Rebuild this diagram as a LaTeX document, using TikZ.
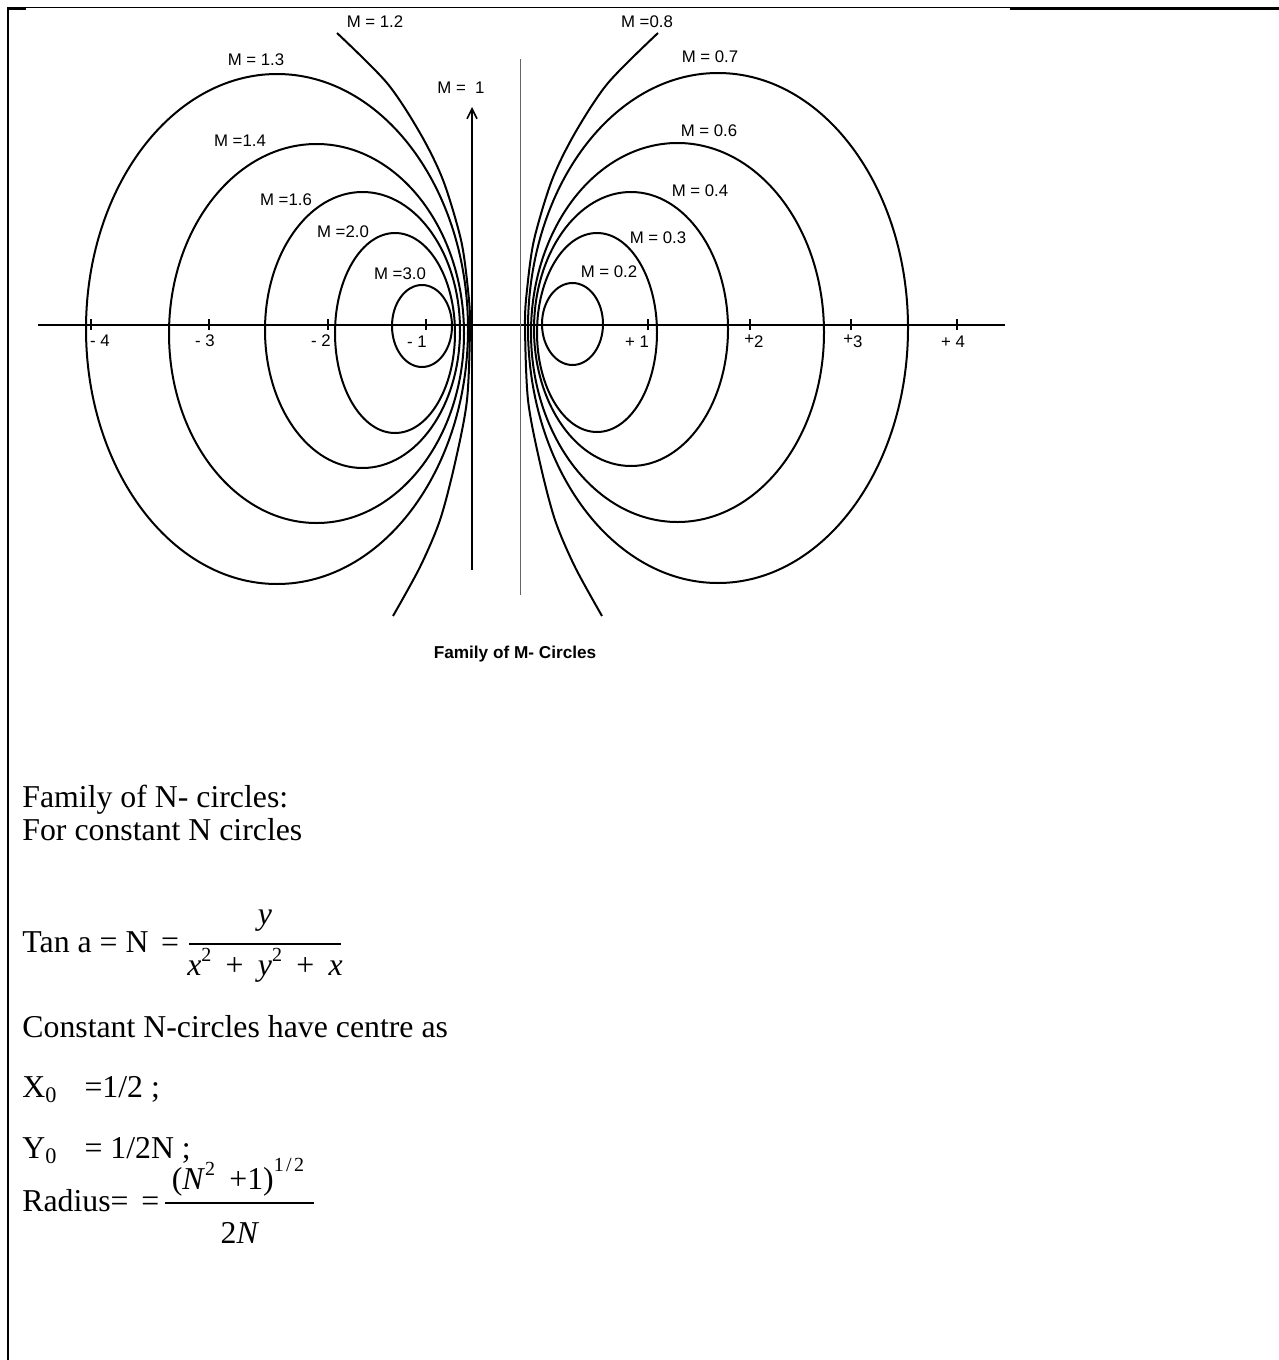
\documentclass[tikz,border=0pt]{standalone}
\usepackage{fontspec}
\setmainfont{Liberation Serif}
\newfontfamily\arialfont{Liberation Sans}
\usetikzlibrary{arrows.meta}
\newcommand{\supidx}[2][0.42em]{\raisebox{#1}{\fontsize{10}{10}\selectfont #2}}

\begin{document}
\begin{tikzpicture}[
  x=0.5pt,y=-0.5pt,
  frame/.style={line width=0.7pt,color=black},
  axisline/.style={line width=0.55pt,color=black},
  imagline/.style={line width=0.5pt,color=black!60},
  mcurve/.style={line width=1pt,color=black},
  unitline/.style={line width=1pt,-{Straight Barb[length=5pt,width=5pt,line width=0.8pt]}},
  mlabel/.style={font=\arialfont\fontsize{8.4}{9}\selectfont,inner sep=0pt},
  caption/.style={font=\arialfont\bfseries\fontsize{8.6}{10}\selectfont,inner sep=0pt},
  body/.style={font=\fontsize{15.9}{16.5}\selectfont,anchor=base west,inner sep=0pt},
  fracpart/.style={font=\fontsize{15.9}{16.5}\selectfont,anchor=base,inner sep=0pt},
  fracbar/.style={line width=0.7pt}
]
\useasboundingbox (0,0) rectangle (1279,1360);

% Page frame.
\draw[frame] (8,7.5)--(1012,7.5);
\draw[line width=1.2pt] (1010,8.4)--(1279,8.4);
\draw[line width=1.3pt] (7,8.2)--(26,8.2);
\draw[line width=0.9pt] (8,7)--(8,1360);

% Real axis, ticks and labels.
\draw[axisline] (38,325)--(1005,325);
\foreach \x in {91,209,328,426,648,750,851,957}
  \draw[axisline] (\x,319)--(\x,330);
\foreach \x/\y/\lbl [count=\i] in {100/341/{- 4},205/341/{- 3},321/341/{- 2},417/342/{- 1},
    637/342/{+ 1},754/341/{\raisebox{1.5pt}{+}2},853/341/{\raisebox{1.5pt}{+}3},953/342/{+ 4}}
  \node[mlabel] (tick\i) at (\x,\y) {\lbl};

% Imaginary axis and the M = 1 line.
\draw[imagline] (520,59)--(520,595);
\coordinate (unitbot) at (472,570);
\coordinate (unittop) at (472,107);
\draw[unitline] (unitbot)--(unittop);

% Closed M-circles: M > 1 on the left, M < 1 on the right.
\foreach \cx/\cy/\rx/\ry in {277/329/191/255,316.5/333.5/147.5/189.5,362.5/330/97.5/138,
    395/333/60/100,422/326/30/41,572.5/324/30.5/41,597/332.5/60/99.5,631/329/97/137,
    677.5/332.5/146.5/189.5,718/328/190/255}
  \draw[mcurve] (\cx,\cy) ellipse [x radius=\rx,y radius=\ry];

% Open curves M = 1.2 and M = 0.8.
\draw[mcurve] plot[smooth] coordinates {(337,33) (387,83) (420,133) (443,180) (461,240)
  (468,290) (470,325) (467,400) (455,463) (440,520) (420,567) (393,616)};
\draw[mcurve] plot[smooth] coordinates {(658,33) (608,83) (575,133) (552,180) (534,240)
  (527,290) (525,325) (528,400) (540,463) (555,520) (575,567) (602,616)};

% M labels.
\foreach \x/\y/\lbl [count=\i] in {375/22/{M = 1.2},647/22/{M =0.8},256/60/{M = 1.3},
    710/57/{M = 0.7},461/88/{M =\ \ 1},240/141/{M =1.4},709/131/{M = 0.6},286/200/{M =1.6},
    700/191/{M = 0.4},343/232/{M =2.0},658/238/{M = 0.3},400/274/{M =3.0},609/272/{M = 0.2}}
  \node[mlabel] (mlab\i) at (\x,\y) {\lbl};
\node[caption] (mcap) at (515,654) {Family of M- Circles};

% Notes on the N-circles.
\node[body] (ntitle) at (22,807) {Family of N- circles:};
\node[body] (nconst) at (22,840) {For constant N circles};
\node[body] (tanlhs) at (22,952) {Tan a = N\hspace{0.4em}=};
\draw[fracbar] (189,944)--(341,944);
\node[fracpart] (tannum) at (265,924) {\textit{y}};
\node[fracpart] (tanden) at (265,975) {\textit{x}\supidx{2}\hspace{0.45em}+\hspace{0.45em}\textit{y}\supidx{2}\hspace{0.45em}+\hspace{0.45em}\textit{x}};
\node[body] (centre) at (22,1037) {Constant N-circles have centre as};
\node[body] (xzero) at (22,1097) {X\textsubscript{0}\hspace{0.85em}=1/2 ;};
\node[body] (yzero) at (22,1158) {Y\textsubscript{0}\hspace{0.85em}= 1/2N ;};
\node[body] (radlhs) at (22,1211) {Radius=\hspace{0.4em}=};
\draw[fracbar] (165,1203)--(314,1203);
\node[fracpart] (radnum) at (238,1189) {(\textit{N}\supidx{2}\hspace{0.45em}+1)\supidx[0.55em]{1\hspace{0.12em}/\hspace{0.12em}2}};
\node[fracpart] (radden) at (240,1243) {2\textit{N}};
\end{tikzpicture}
\end{document}
